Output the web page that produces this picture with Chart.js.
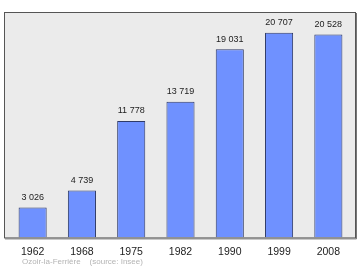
<!DOCTYPE html>
<html>
<head>
<meta charset="utf-8">
<script src="https://cdn.jsdelivr.net/npm/chart.js@4"></script>
<style>
  html, body { margin: 0; padding: 0; background: #fff; }
  #wrap { position: relative; width: 360px; height: 270px; }
  #source {
    position: absolute; left: 22px; top: 257px;
    font: 8px "Liberation Sans", Arial, sans-serif; color: #b4b4b4; white-space: pre;
  }
</style>
</head>
<body>
<div id="wrap">
  <canvas id="chart" width="360" height="270"></canvas>
  <div id="source">Ozoir-la-Ferrière    (source: Insee)</div>
</div>
<script>
const years = ['1962', '1968', '1975', '1982', '1990', '1999', '2008'];
const population = [3026, 4739, 11778, 13719, 19031, 20707, 20528];

const fmt = (v) => String(v).replace(/\B(?=(\d{3})+(?!\d))/g, ' ');

// grey plot box, a bit wider than the chart area
const frame = {
  id: 'frame',
  beforeDatasetsDraw(chart) {
    const a = chart.chartArea;
    const ctx = chart.ctx;
    ctx.save();
    ctx.fillStyle = '#ebebeb';
    ctx.fillRect(4, a.top, 352, a.bottom - a.top);
    ctx.restore();
  },
  afterDatasetsDraw(chart) {
    const a = chart.chartArea;
    const ctx = chart.ctx;
    ctx.save();
    ctx.strokeStyle = '#555';
    ctx.lineWidth = 1;
    ctx.strokeRect(4.5, a.top + 0.5, 351, a.bottom - a.top);
    // slightly heavier right / bottom edge
    ctx.strokeStyle = '#777';
    ctx.beginPath();
    ctx.moveTo(356.5, a.top + 1);
    ctx.lineTo(356.5, a.bottom + 1.5);
    ctx.lineTo(5, a.bottom + 1.5);
    ctx.stroke();

    // value labels above the bars
    ctx.fillStyle = '#222';
    ctx.font = '9px "Liberation Sans", Arial, sans-serif';
    ctx.textAlign = 'center';
    ctx.textBaseline = 'middle';
    const meta = chart.getDatasetMeta(0);
    meta.data.forEach((bar, i) => {
      ctx.fillText(fmt(population[i]), bar.x, bar.y - 10);
    });
    ctx.restore();
  }
};

new Chart(document.getElementById('chart'), {
  type: 'bar',
  data: {
    labels: years,
    datasets: [{
      data: population,
      backgroundColor: '#6f91ff',
      borderColor: '#2e3a68',
      borderWidth: 1,
      barPercentage: 0.57,
      categoryPercentage: 1
    }]
  },
  options: {
    responsive: false,
    animation: false,
    layout: { padding: { left: 8, right: 7, top: 12, bottom: 12 } },
    plugins: { legend: { display: false }, tooltip: { enabled: false } },
    scales: {
      x: {
        grid: { display: false },
        border: { display: false },
        ticks: {
          color: '#222',
          padding: 0,
          font: { family: '"Liberation Sans", Arial, sans-serif', size: 10.5 }
        }
      },
      y: {
        display: false,
        min: 0,
        max: 22800
      }
    }
  },
  plugins: [frame]
});
</script>
</body>
</html>
